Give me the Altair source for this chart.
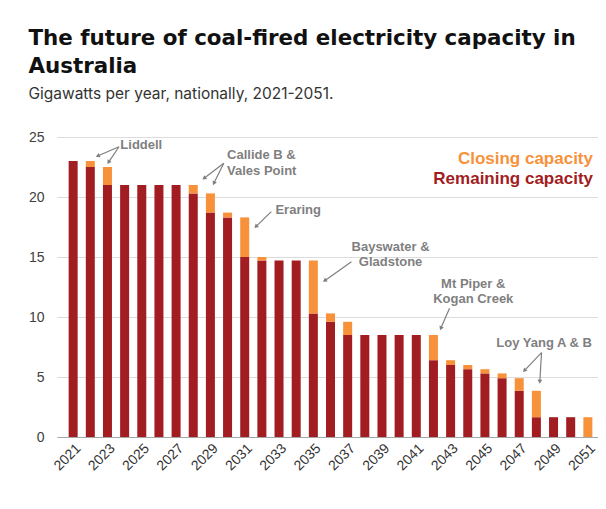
import math
import altair as alt
import pandas as pd

years = list(range(2021, 2052))
remaining = [23.0, 22.5, 21.0, 21.0, 21.0, 21.0, 21.0, 20.3, 18.7, 18.3, 15.0,
             14.7, 14.7, 14.7, 10.3, 9.6, 8.5, 8.5, 8.5, 8.5, 8.5, 6.4, 6.0,
             5.65, 5.3, 4.9, 3.85, 1.65, 1.65, 1.65, 0.0]
closing = [0.0, 0.5, 1.5, 0.0, 0.0, 0.0, 0.0, 0.7, 1.6, 0.4, 3.3,
           0.3, 0.0, 0.0, 4.4, 0.7, 1.1, 0.0, 0.0, 0.0, 0.0, 2.1, 0.4,
           0.35, 0.35, 0.4, 1.05, 2.2, 0.0, 0.0, 1.65]
tick_years = list(range(2021, 2052, 2))
y_ticks = [0, 5, 10, 15, 20, 25]

# annotation text lines (positions in data units: year, GW)
ann_left_text = ["Liddell", "Callide B &", "Vales Point", "Eraring"]
ann_left_x = [2023.75, 2029.97, 2029.97, 2032.79]
ann_left_y = [24.35, 23.5, 22.15, 18.92]

ann_center_text = ["Bayswater &", "Gladstone", "Mt Piper &", "Kogan Creek", "Loy Yang A & B"]
ann_center_x = [2039.5, 2039.5, 2044.32, 2044.32, 2048.45]
ann_center_y = [15.81, 14.56, 12.75, 11.5, 7.81]

# arrows (start -> tip)
arr_x1 = [2023.67, 2023.67, 2029.78, 2029.78, 2032.55, 2037.22, 2042.94, 2048.3, 2048.3]
arr_y1 = [24.19, 24.19, 22.81, 22.81, 18.78, 14.61, 10.73, 7.03, 7.03]
arr_x2 = [2022.43, 2023.06, 2028.63, 2029.2, 2031.65, 2035.66, 2042.43, 2047.3, 2048.2]
arr_y2 = [23.42, 22.89, 21.56, 21.14, 17.53, 13.03, 9.06, 5.53, 4.61]

legend_text = ["Closing capacity", "Remaining capacity"]
legend_x = [2051.3, 2051.3]
legend_y = [23.14, 21.47]

C_REM = "#a11d21"
C_CLO = "#f7923a"
GRAY = "#7f7f7f"

W, H = 541, 300
X_DOM = [2020.35, 2051.3]
Y_DOM = [0, 25]
px_yr = W / (X_DOM[1] - X_DOM[0])
px_gw = H / (Y_DOM[1] - Y_DOM[0])

bars = pd.DataFrame({"year": years, "remaining": remaining, "closing": closing})
bars["total"] = bars["remaining"] + bars["closing"]

angles = []
for a, b, c, d in zip(arr_x1, arr_y1, arr_x2, arr_y2):
    dx = (c - a) * px_yr
    dy = -(d - b) * px_gw
    angles.append(math.degrees(math.atan2(dx, -dy)) % 360)
arrows = pd.DataFrame({"x1": arr_x1, "y1": arr_y1, "x2": arr_x2, "y2": arr_y2, "angle": angles})

xs = alt.Scale(domain=X_DOM, nice=False, zero=False)
ys = alt.Scale(domain=Y_DOM, nice=False)

x_axis = alt.Axis(values=tick_years, format="d", labelAngle=-45, labelFontSize=14,
                  labelFont="Liberation Sans", labelColor="#333333", ticks=False,
                  grid=False, domainColor="#a6a6a6", labelPadding=4, title=None,
                  labelOverlap=False, labelBound=False, labelFlush=False, labelSeparation=0)
y_axis = alt.Axis(values=y_ticks, labelFontSize=14, labelFont="Liberation Sans",
                  labelColor="#404040", ticks=False, domain=False, gridColor="#dcdcdc",
                  labelPadding=13, title=None)

def xq(f):
    return alt.X(f, scale=xs, axis=x_axis)

def yq(f):
    return alt.Y(f, scale=ys, axis=y_axis)

base = alt.Chart(bars)
rem_bar = base.mark_bar(size=9, color=C_REM).encode(
    x=xq("year:Q"), y=yq("remaining:Q"),
)
clo_bar = base.transform_filter("datum.closing > 0").mark_bar(size=9, color=C_CLO).encode(
    x=xq("year:Q"), y=yq("remaining:Q"), y2="total:Q",
)

arr_c = alt.Chart(arrows)
arrow_lines = arr_c.mark_rule(color=GRAY, strokeWidth=1.2).encode(
    x=xq("x1:Q"), y=yq("y1:Q"), x2="x2:Q", y2="y2:Q"
)
arrow_heads = arr_c.mark_point(shape="triangle-up", filled=True, color=GRAY, size=22, opacity=1).encode(
    x=xq("x2:Q"), y=yq("y2:Q"), angle=alt.Angle("angle:Q", scale=None)
)

txt_font = dict(font="Liberation Sans", fontWeight="bold", fontSize=13, color=GRAY, baseline="middle")
ann_l = alt.Chart(pd.DataFrame({"t": ann_left_text, "x": ann_left_x, "y": ann_left_y})).mark_text(
    align="left", **txt_font).encode(x=xq("x:Q"), y=yq("y:Q"), text="t:N")
ann_c = alt.Chart(pd.DataFrame({"t": ann_center_text, "x": ann_center_x, "y": ann_center_y})).mark_text(
    align="center", **txt_font).encode(x=xq("x:Q"), y=yq("y:Q"), text="t:N")

leg = alt.Chart(pd.DataFrame({"t": legend_text, "x": legend_x, "y": legend_y,
                              "c": [C_CLO, C_REM]})).mark_text(
    align="right", baseline="middle", font="Liberation Sans", fontWeight="bold", fontSize=17).encode(
    x=xq("x:Q"), y=yq("y:Q"), text="t:N",
    color=alt.Color("c:N", scale=None))

chart = alt.layer(rem_bar, clo_bar, arrow_lines, arrow_heads, ann_l, ann_c, leg).properties(
    width=W, height=H,
    autosize=alt.AutoSizeParams(type="none"),
    padding={"left": 49, "top": 129, "right": 0, "bottom": 60},
    background="white",
    title=alt.Title(
        text=["The future of coal-fired electricity capacity in", "Australia"],
        subtitle="Gigawatts per year, nationally, 2021-2051.",
        anchor="start", dx=0, offset=28,
        font="DejaVu Sans", fontSize=21.4, fontWeight="bold", color="#111111", lineHeight=27.7,
        subtitleFont="Inter", subtitleFontSize=15.5, subtitleColor="#333333",
        subtitlePadding=9,
    ),
).configure_view(stroke=None).configure_axisX(labelOverlap=False)

chart.save("out.html", embed_options={"renderer": "svg", "actions": False})
